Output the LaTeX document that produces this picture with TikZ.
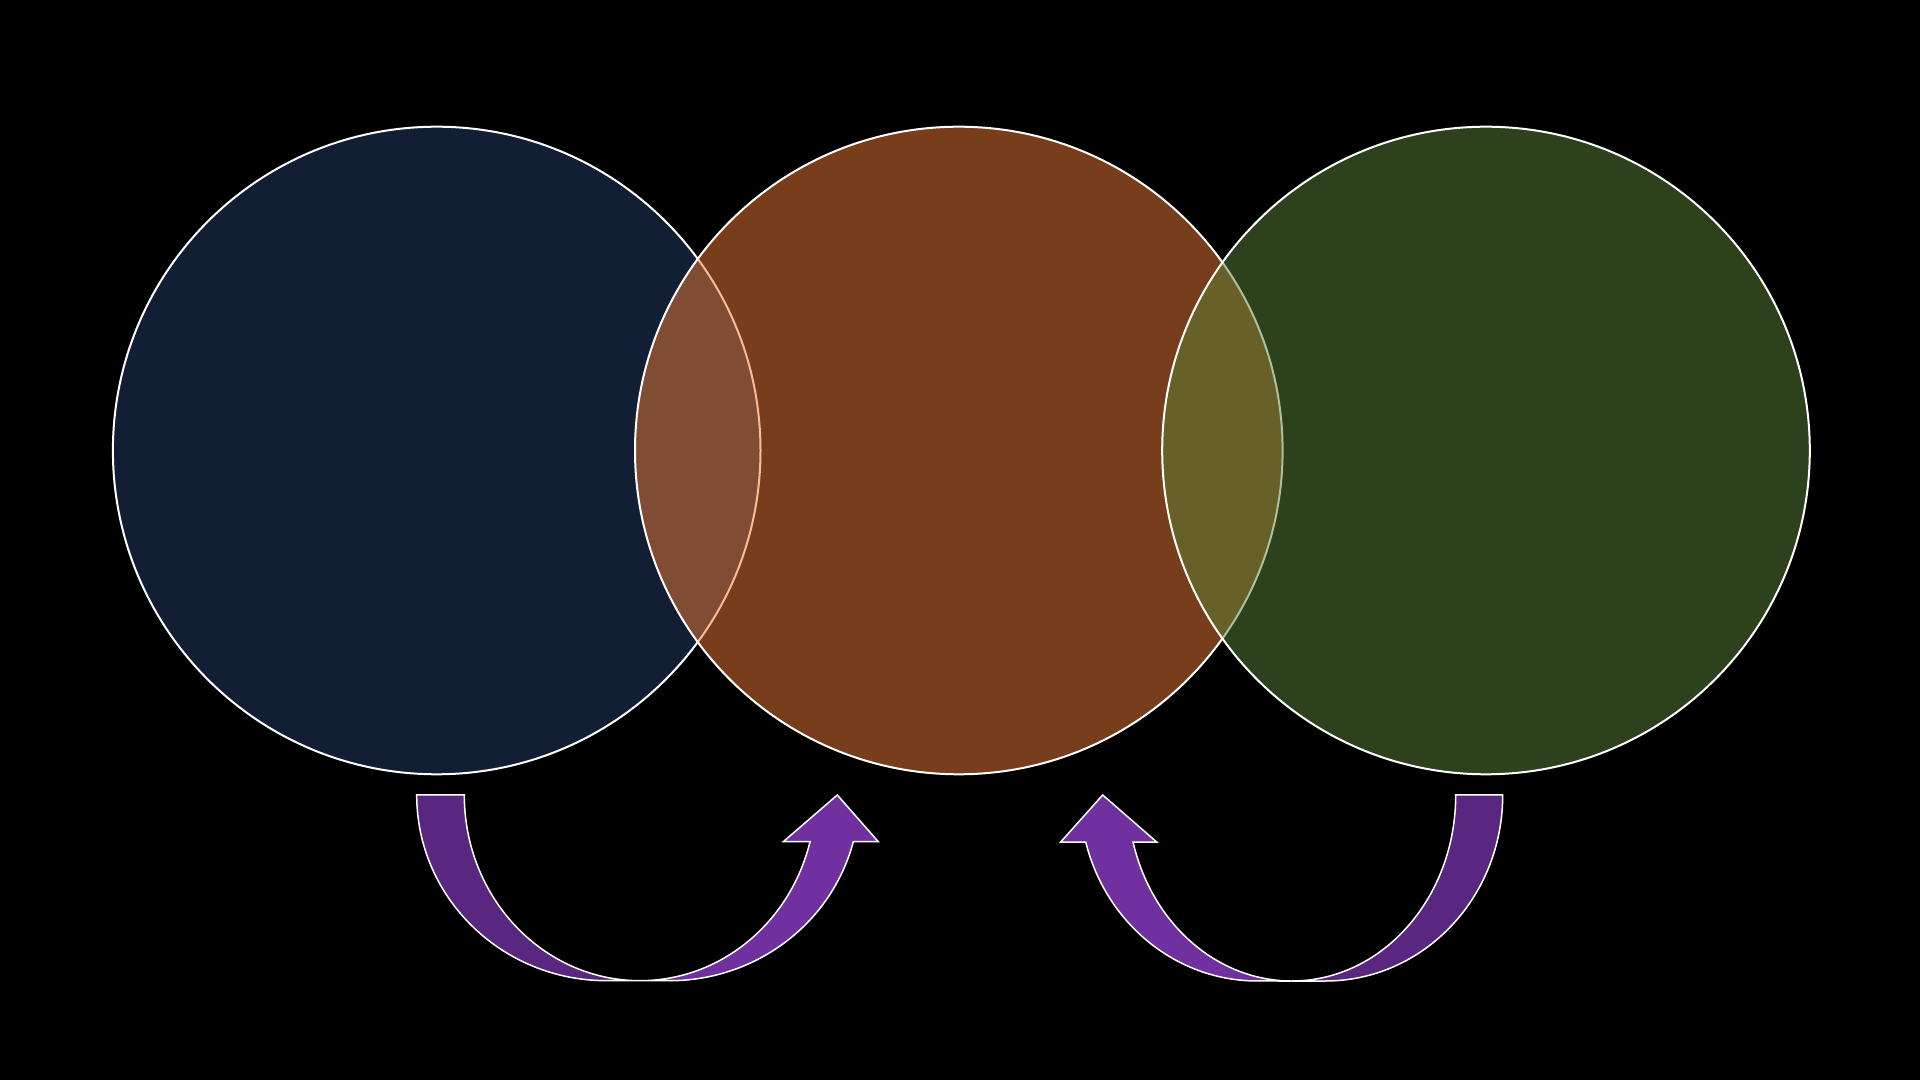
\documentclass[tikz,border=0pt]{standalone}
\usepackage{tikz}
\usetikzlibrary{calc}
\definecolor{ringblue}{RGB}{34,60,102}
\definecolor{ringorange}{RGB}{240,122,52}
\definecolor{ringgreen}{RGB}{88,131,56}
\definecolor{arrowfront}{RGB}{112,48,160}
\definecolor{arrowback}{RGB}{90,39,128}
\tikzset{ring/.style={draw=white, line width=2pt, fill opacity=0.5},
         band/.style={draw=white, line width=1.5pt, line join=miter}}

\begin{document}
\begin{tikzpicture}[x=1pt,y=1pt]
    \fill[black] (0,0) rectangle (1920,1080);
    \useasboundingbox (0,0) rectangle (1920,1080);
    % the three rings, each one over the one before
    \draw[ring, fill=ringblue] (436.7,629.5) circle (323.8);
    \draw[ring, fill=ringorange] (958.8,629.5) circle (323.8);
    \draw[ring, fill=ringgreen] (1486,629.5) circle (323.8);
    % left curved arrow
    \draw[band, fill=arrowback] (416.7,285) arc[start angle=180, end angle=270, x radius=190, y radius=185.7]
        -- (640,99.3) arc[start angle=270, end angle=180, x radius=175.7, y radius=185.7] -- cycle;
    \draw[band, fill=arrowfront] (640,99.3) arc[start angle=270, end angle=345.44, x radius=175.7, y radius=185.7]
        -- (783.3,238.3) -- (837.3,285) -- (878.3,238.3) -- (853.3,238.3)
        arc[start angle=345.44, end angle=270, x radius=190, y radius=185.7] -- cycle;
    % right curved arrow
    \draw[band, fill=arrowback] (1502.7,285) arc[start angle=0, end angle=-90, x radius=177.4, y radius=186]
        -- (1291.7,99) arc[start angle=-90, end angle=0, x radius=164, y radius=186] -- cycle;
    \draw[band, fill=arrowfront] (1291.7,99) arc[start angle=-90, end angle=-165.36, x radius=164, y radius=186]
        -- (1156.7,238) -- (1102.7,285) -- (1060.7,238) -- (1085.7,238)
        arc[start angle=-165.36, end angle=-90, x radius=177.4, y radius=186] -- cycle;
\end{tikzpicture}
\end{document}
